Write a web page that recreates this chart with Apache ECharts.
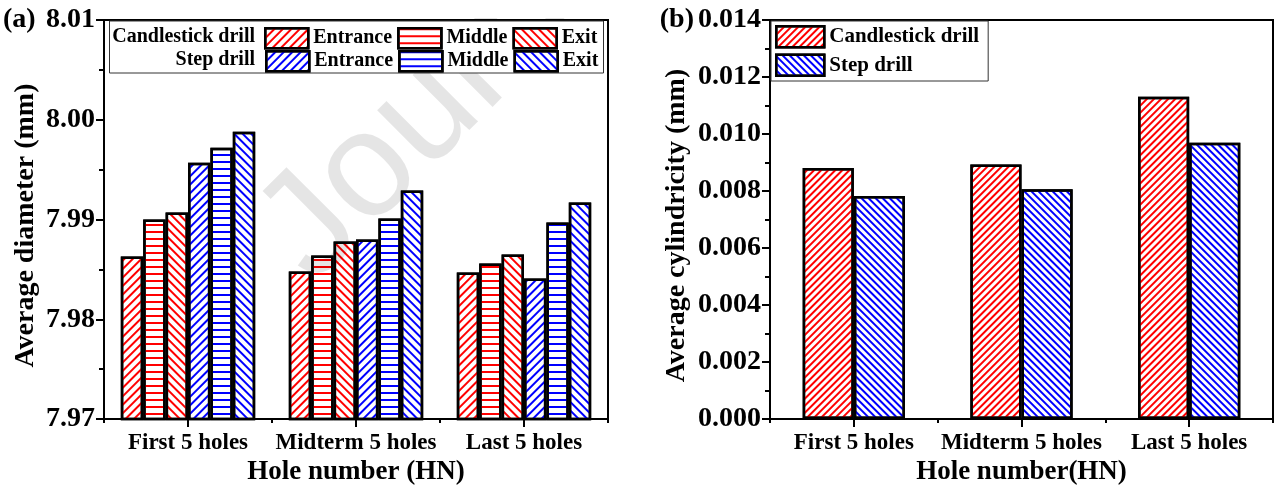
<!DOCTYPE html>
<html>
<head>
<meta charset="utf-8">
<script src="https://cdn.jsdelivr.net/npm/echarts@6/dist/echarts.min.js"></script>
<style>
  html, body { margin: 0; padding: 0; background: #fff; }
  #chart { width: 1275px; height: 491px; }
</style>
</head>
<body>
<div id="chart"></div>
<script>
// Hole groups along the x axis
const categories = ['First 5 holes', 'Midterm 5 holes', 'Last 5 holes'];

// (a) Average diameter (mm) measured at entrance / middle / exit
const candleEntrance = [7.9863, 7.9848, 7.9847];
const candleMiddle   = [7.9900, 7.9864, 7.9856];
const candleExit     = [7.9907, 7.9878, 7.9865];
const stepEntrance   = [7.9957, 7.9880, 7.9841];
const stepMiddle     = [7.9972, 7.9901, 7.9897];
const stepExit       = [7.9988, 7.9929, 7.9917];

// (b) Average cylindricity (mm)
const cylCandle = [0.00881, 0.00893, 0.01131];
const cylStep   = [0.00783, 0.00806, 0.00969];

const FONT = '"Liberation Serif", "Times New Roman", serif';
const RED = '#ff0000';
const BLUE = '#0000ff';

// hatch fills
function hatch(color, rot, line, gap) {
  return { symbol: 'rect', symbolSize: 1, dashArrayX: [1, 0], dashArrayY: [line, gap], rotation: rot, color: color };
}
const UP = -Math.PI / 4;   // "/" lines
const DOWN = Math.PI / 4;  // "\" lines

function barSeries(name, data, color, decal, xi, yi, extra) {
  return Object.assign({
    type: 'bar', name: name, data: data,
    xAxisIndex: xi, yAxisIndex: yi,
    itemStyle: { color: '#fff', borderColor: '#000', borderWidth: 2.5, decal: decal },
    emphasis: { disabled: true },
    animation: false
  }, extra || {});
}

const tickLabel = { fontFamily: FONT, fontWeight: 'bold', color: '#000' };
const axisLine = { show: true, lineStyle: { color: '#000', width: 2 } };

function valueAxis(gridIndex, min, max, interval, digits, name, gap) {
  return {
    type: 'value', gridIndex: gridIndex, min: min, max: max, interval: interval,
    name: name, nameLocation: 'middle', nameGap: gap,
    nameTextStyle: Object.assign({ fontSize: 28, padding: [0, 12, 0, 0] }, tickLabel),
    axisLine: axisLine,
    axisTick: { show: true, length: 8, lineStyle: { color: '#000', width: 2 } },
    minorTick: { show: true, splitNumber: 2, length: 5, lineStyle: { color: '#000', width: 2 } },
    splitLine: { show: false },
    axisLabel: Object.assign({ fontSize: 28, margin: 9, formatter: v => v.toFixed(digits) }, tickLabel)
  };
}

function catAxis(gridIndex, name) {
  return {
    type: 'category', gridIndex: gridIndex, data: categories, position: 'bottom',
    name: name, nameLocation: 'middle', nameGap: 34,
    nameTextStyle: Object.assign({ fontSize: 27 }, tickLabel),
    axisLine: axisLine,
    axisTick: { show: true, alignWithLabel: true, interval: 0, length: 8, lineStyle: { color: '#000', width: 2 } },
    axisLabel: Object.assign({ fontSize: 23, margin: 12, interval: 0, hideOverlap: false }, tickLabel)
  };
}

// boundary ticks between the groups
function boundaryAxis(gridIndex) {
  return {
    type: 'category', gridIndex: gridIndex, data: categories, position: 'bottom',
    axisLine: { show: false },
    axisTick: { show: true, interval: 0, length: 4, lineStyle: { color: '#000', width: 2 } },
    axisLabel: { show: false }
  };
}

const legendText = size => ({ fontFamily: FONT, fontWeight: 'bold', fontSize: size, color: '#000' });
const legendItem = { borderColor: '#000', borderWidth: 2.5 };

const nameA = ['Candlestick drill - Entrance', 'Candlestick drill - Middle', 'Candlestick drill - Exit',
               'Step drill - Entrance', 'Step drill - Middle', 'Step drill - Exit'];
const shortName = n => n.split(' - ')[1];

const option = {
  backgroundColor: '#fff',
  animation: false,
  grid: [
    { left: 104, right: 667, top: 20, bottom: 66, show: true, borderColor: '#000', borderWidth: 2 },
    { left: 770, right: 2, top: 20, bottom: 66, show: true, borderColor: '#000', borderWidth: 2 }
  ],
  xAxis: [
    catAxis(0, 'Hole number (HN)'),
    boundaryAxis(0),
    catAxis(1, 'Hole number(HN)'),
    boundaryAxis(1)
  ],
  yAxis: [
    valueAxis(0, 7.97, 8.01, 0.01, 2, 'Average diameter (mm)', 64),
    valueAxis(1, 0, 0.014, 0.002, 3, 'Average cylindricity (mm)', 79)
  ],
  legend: [
    {
      data: nameA.slice(0, 3), left: 264, top: 27, padding: 0, itemGap: 5,
      itemWidth: 43, itemHeight: 20, icon: 'rect', itemStyle: legendItem,
      textStyle: legendText(20), formatter: shortName, selectedMode: false, z: 10
    },
    {
      data: nameA.slice(3), left: 265, top: 50, padding: 0, itemGap: 5,
      itemWidth: 43, itemHeight: 20, icon: 'rect', itemStyle: legendItem,
      textStyle: legendText(20), formatter: shortName, selectedMode: false, z: 10
    },
    {
      data: ['Candlestick drill', 'Step drill'], orient: 'vertical', left: 771, top: 21,
      padding: [4, 9, 4, 4], itemGap: 5, itemWidth: 48, itemHeight: 21, icon: 'rect',
      itemStyle: legendItem, textStyle: legendText(21), selectedMode: false,
      backgroundColor: '#fff', borderColor: '#333', borderWidth: 1, z: 10
    }
  ],
  series: [
    barSeries(nameA[0], candleEntrance, RED, hatch(RED, UP, 1.2, 3.6), 0, 0, { barGap: '0%', barCategoryGap: '20%' }),
    barSeries(nameA[1], candleMiddle, RED, hatch(RED, 0, 2, 5), 0, 0),
    barSeries(nameA[2], candleExit, RED, hatch(RED, DOWN, 1.2, 3.6), 0, 0),
    barSeries(nameA[3], stepEntrance, BLUE, hatch(BLUE, UP, 1.2, 3.6), 0, 0),
    barSeries(nameA[4], stepMiddle, BLUE, hatch(BLUE, 0, 2, 5), 0, 0),
    barSeries(nameA[5], stepExit, BLUE, hatch(BLUE, DOWN, 1.2, 3.6), 0, 0),
    barSeries('Candlestick drill', cylCandle, RED, hatch(RED, UP, 1.1, 2.1), 2, 1, { barGap: '0%', barCategoryGap: '39%' }),
    barSeries('Step drill', cylStep, BLUE, hatch(BLUE, DOWN, 1.1, 2.1), 2, 1)
  ],
  graphic: [
    // panel tags
    { type: 'text', x: 3, y: 20, z: 10, style: { text: '(a)', font: 'bold 28px ' + FONT, fill: '#000', textVerticalAlign: 'middle' } },
    { type: 'text', x: 694, y: 20, z: 10, style: { text: '(b)', font: 'bold 28px ' + FONT, fill: '#000', textAlign: 'right', textVerticalAlign: 'middle' } },
    // faint diagonal watermark
    { type: 'text', x: 285, y: 256, rotation: Math.PI / 4, z: 4, silent: true,
      style: { text: 'Journal Pre-proof', font: '150px "Liberation Sans", Arial, sans-serif', fill: 'rgba(0,0,0,0.1)', textVerticalAlign: 'middle' } },
    { type: 'rect', shape: { x: 106, y: 0, width: 520, height: 18 }, z: 5, silent: true, style: { fill: '#fff' } },
    // legend box for panel (a)
    { type: 'rect', shape: { x: 109.5, y: 21, width: 494, height: 52 }, z: 6, silent: true,
      style: { fill: '#fff', stroke: '#333', lineWidth: 1 } },
    { type: 'text', x: 255, y: 37, z: 10, style: { text: 'Candlestick drill', font: 'bold 20px ' + FONT, fill: '#000', textAlign: 'right', textVerticalAlign: 'middle' } },
    { type: 'text', x: 255, y: 60, z: 10, style: { text: 'Step drill', font: 'bold 20px ' + FONT, fill: '#000', textAlign: 'right', textVerticalAlign: 'middle' } }
  ]
};

const chart = echarts.init(document.getElementById('chart'), null, { renderer: 'canvas' });
chart.setOption(option);
</script>
</body>
</html>
